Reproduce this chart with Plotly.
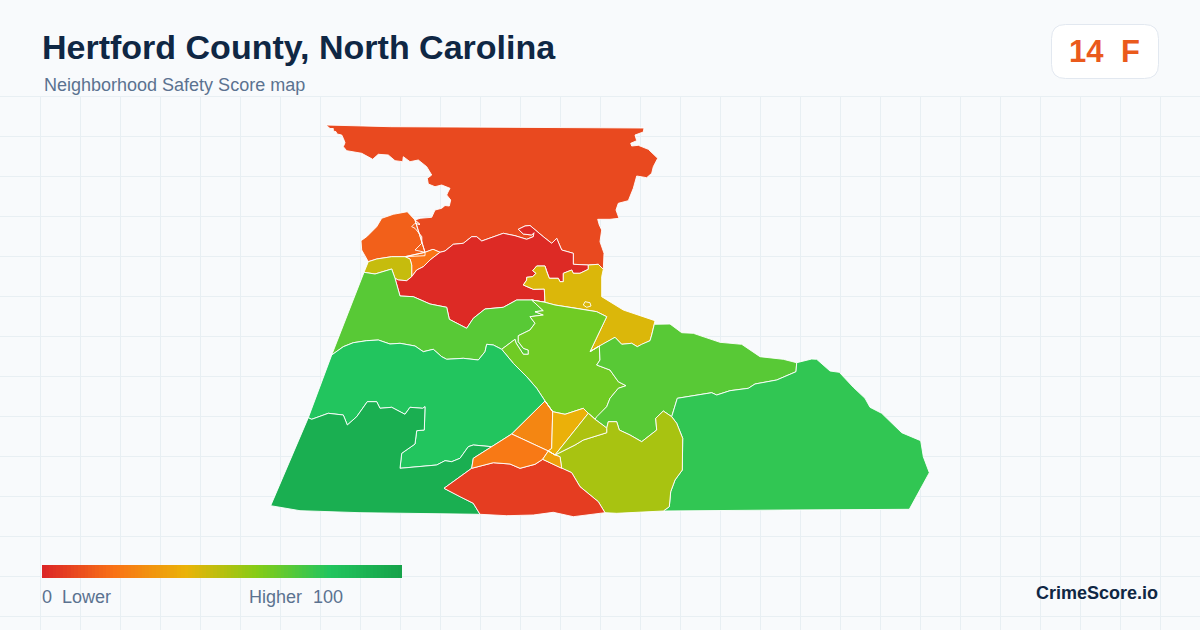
#!/usr/bin/env python
# coding: utf-8

import plotly.graph_objects as go
from plotly.colors import sample_colorscale

SCORE_STOPS = [0, 20, 40, 60, 80, 100]
SCORE_COLORS = ["#dc2626", "#f97316", "#eab308", "#84cc16", "#22c55e", "#16a34a"]
LEGEND_SCORES = list(range(0, 101))

SCORES = {
    "north": 9, "northwest": 15, "sliver": 20, "olive": 47, "center_red": 1,
    "yellow": 43, "west_upper": 69, "lime": 64, "west_big": 80, "southwest": 93,
    "east_mid": 69, "east_big": 77, "south_olive": 53, "south_red": 6,
    "orange_a": 26, "orange_b": 22, "yellow_a": 39, "tiny": 34, "yellow_green": 52,
}

# Shared borders, in projected map units
NORTH_WEST_COAST = [(326, 125), (330, 128.5), (333.3, 128.5), (333.3, 131), (336, 131.7), (337, 134), (341.7, 135),
                    (343.3, 138.3), (345, 142.7), (343.3, 146.7), (346.7, 150.7), (361.7, 153.3), (372.7, 159.3),
                    (378.3, 154.3), (388.3, 155), (395, 160.7), (402.7, 161.7), (403.3, 156.7), (410, 161.7),
                    (418.3, 160), (426.7, 166.7), (431.7, 175), (427.3, 178.3), (428.3, 184), (435, 186.7),
                    (441.7, 185), (450, 188.3), (448, 192), (446.7, 195), (450.7, 200), (449.3, 206), (445, 205.5),
                    (441.7, 208.3), (435, 210), (431.7, 217.3), (420, 218.3), (415, 220)]
NORTH_EAST_EDGE = [(326, 125), (390.7, 126.7), (644, 128), (643.3, 132), (635, 135), (636.7, 140.7),
                   (630.7, 143.3), (631.7, 146), (638.3, 145.3), (648.3, 149.3), (657.7, 158.3), (653.3, 166.7),
                   (651.7, 173.3), (646.7, 177.7), (636.7, 176), (633.3, 188.3), (628.3, 200.7), (618.3, 203.3),
                   (616, 210), (619, 218.3), (610, 219.3), (597.7, 219.3), (599.3, 225), (601.7, 230),
                   (600, 241.7), (604, 253.3), (603.3, 269.3)]
NORTH_YELLOW = [(603.3, 269.3), (598.3, 264.3), (588.3, 265)]
NORTH_RED = [(588.3, 265), (573.3, 264.3), (573.3, 253.3), (561.7, 250), (556.7, 238.3), (551.7, 243.3),
             (543.3, 236.7), (535, 230), (530, 225.5), (525, 226), (518.3, 229.3), (523.3, 234), (531.7, 235),
             (534, 232.7), (533.3, 236.7), (526.7, 239.3), (515, 235.7), (503.3, 233.3), (493.3, 236.7),
             (481.7, 241), (476.7, 236.7), (471.7, 236.7), (463.3, 243.3), (453.3, 244.3), (445, 251), (440, 252.3)]
NORTH_SLIVER = [(440, 252.3), (433, 249.3), (425, 252.3)]
NORTH_NW = [(425, 252.3), (415, 250), (421.7, 243.3), (421.7, 236.7), (415, 228.3), (411.7, 226.7), (415, 223.3),
            (420, 224.5), (415, 220)]
NW_OUTER = [(415, 220), (407.3, 211.7), (393.3, 214.3), (381.7, 218.3), (376.7, 226.7), (366.7, 236.7),
            (361, 240.7), (361.7, 250), (368.3, 261.7)]
NW_OLIVE = [(368.3, 261.7), (376.7, 259), (391.7, 256.7), (405, 256.7)]
NW_SLIVER = [(405, 256.7), (425, 255.7), (425, 252.3)]
SLIVER_OLIVE = [(405, 256.7), (410, 259), (411.7, 265), (411.7, 276.7)]
SLIVER_RED = [(440, 252.3), (430, 260), (423.3, 266.7), (416.7, 270), (411.7, 276.7)]
OLIVE_RED = [(411.7, 276.7), (406.7, 280.7), (398.3, 280), (395, 278.3)]
OLIVE_WEST = [(395, 278.3), (391.7, 269), (375, 274), (364, 272.3), (368.3, 261.7)]
RED_WEST = [(395, 278.3), (400, 296), (413.3, 296.7), (430, 304), (446.7, 307.3), (449.3, 319.3), (466.7, 328.3),
            (473.3, 318.3), (485, 309), (503.3, 307.3), (516.7, 300), (531.7, 300)]
RED_YELLOW = [(531.7, 300), (545, 302.3), (544.3, 289), (533.3, 289.3), (523.3, 285), (526.7, 280), (526.7, 277.3),
              (532.7, 276.7), (536, 273.3), (532.7, 270.7), (536.7, 266), (545, 266), (546.7, 271.7), (549.3, 278.3),
              (558.3, 278.3), (560, 281.7), (563.3, 281.7), (563.3, 273.3), (571.7, 270), (573.3, 273.3),
              (580, 273.3), (588.3, 269.3), (588.3, 265)]
YELLOW_LIME = [(531.7, 300), (545, 302.3), (555, 305), (576.7, 308.3), (596.7, 311.7), (606.7, 316.7), (590, 351.7)]
YELLOW_EAST = [(603.3, 269.3), (601.7, 276.7), (601.7, 296.7), (610, 302), (623.3, 310), (655, 320.7), (654.3, 324.3)]
YELLOW_MID = [(654.3, 324.3), (651.7, 335), (650, 340.7), (641.7, 344.3), (637.3, 346.7), (631.7, 343.3),
              (621.7, 344.3), (615, 337.3), (599.3, 346), (590, 351.7)]
YELLOW_POND = [(585, 301.7), (590, 302.7), (591, 306), (586.7, 307.3), (583.3, 305)]
WEST_LIME = [(531.7, 300), (543.3, 310.7), (535, 311.7), (543.3, 315), (530, 316.7), (535, 323.3), (530, 330),
             (518.3, 335.7), (518.3, 341.7), (523.3, 348.3), (528.3, 350), (528.3, 354.3), (523.3, 354.3),
             (516, 343), (515, 339.3), (501.7, 349.3)]
WEST_BIG_TOP = [(501.7, 349.3), (493.3, 345), (486.7, 344.3), (485, 351.7), (478.3, 360), (463.3, 358.3),
                (446.7, 359.3), (441.7, 356.7), (433.3, 349.3), (423.3, 351.7), (415, 346), (400, 343.3), (390, 344),
                (378.3, 340), (366.7, 340.7), (353.3, 342.7), (343.3, 346.7), (331.7, 355)]
WEST_COAST_UPPER = [(331.7, 355), (364, 272.3)]
WEST_COAST_MID = [(308.3, 417.7), (331.7, 355)]
BIG_LIME = [(501.7, 349.3), (513.3, 363.3), (526.7, 376.7), (536.7, 388.3), (545, 401)]
BIG_ORANGE_A = [(545, 401), (511.7, 434)]
BIG_ORANGE_B = [(511.7, 434), (491.7, 446.7)]
BIG_DARK = [(491.7, 446.7), (473.3, 445), (468.3, 446.7), (460, 458.3), (451.7, 461.7), (445, 460.7), (436.7, 465),
            (400, 468.3), (401.7, 453.3), (415, 444), (416.7, 430.7), (424.3, 430), (425, 406.7), (422.7, 408.3),
            (410, 407.3), (405, 414.3), (391.7, 407.3), (380, 408.3), (376.7, 401.7), (367.3, 401.7),
            (356.7, 416.7), (347.3, 425), (343.3, 415), (328.3, 413.3), (311.7, 419.3), (308.3, 417.7)]
DARK_ORANGE = [(491.7, 446.7), (473.3, 458.3), (471.7, 468.3)]
DARK_RED = [(471.7, 468.3), (444, 488.3), (460, 496.7), (473.3, 503.3), (480, 514.3)]
DARK_SOUTH = [(480, 514.3), (433.3, 514), (360, 512.7), (300, 510.7), (270.7, 505.7), (308.3, 417.7)]
ORANGE_RED = [(471.7, 468.3), (493.3, 462.7), (510, 464), (520, 468.3), (535, 464.3), (542.7, 459.3)]
ORANGE_MID = [(511.7, 434), (548.3, 451)]
ORANGE_B_TINY = [(548.3, 451), (542.7, 459.3)]
ORANGE_A_YELLOW = [(545, 401), (552.7, 411.7), (551.7, 448.3), (548.3, 451)]
YELLOW_A_LIME = [(552.7, 411.7), (565, 414.3), (583.3, 408.3), (588.3, 413.3)]
YELLOW_A_GREEN = [(588.3, 413.3), (555, 455), (548.3, 451)]
TINY_OLIVE = [(555, 455), (560, 456.7), (561.7, 468.3)]
TINY_RED = [(542.7, 459.3), (561.7, 468.3)]
RED_OLIVE = [(561.7, 468.3), (571.7, 472.7), (580, 486.7), (598.3, 501.7), (605, 512.7)]
RED_SOUTH = [(605, 512.7), (573.3, 516.7), (553.3, 512.3), (533.3, 515), (506.7, 515.7), (480, 514.3)]
GREEN_OLIVE = [(555, 455), (575, 445), (583.3, 440), (606.7, 432.7), (606.7, 428.3)]
YG_MID = [(606.7, 428.3), (605, 426.7), (595, 419.3), (588.3, 413.3)]
LIME_MID = [(599.3, 346), (600, 360), (596.7, 365), (610, 370), (618.3, 381.7), (626, 385.7), (618.3, 388.3),
            (610, 398.3), (606.7, 406.7), (596.7, 416.7), (595, 419.3)]
MID_OLIVE = [(606.7, 428.3), (608.3, 421.7), (616.7, 421.7), (619.3, 430), (630, 435), (641.7, 441.7), (656.7, 430),
             (655.7, 418.3), (663.3, 411), (671.7, 416.7)]
MID_NORTH = [(654.3, 324.3), (670, 324), (681.7, 332.7), (693.3, 333.3), (720, 342.3), (741.7, 344.3), (760, 356.7),
             (783.3, 359.3), (796.7, 362.7)]
MID_EAST = [(796.7, 362.7), (796, 371.7), (776.7, 380), (755, 384), (748.3, 388.3), (730, 390.7), (716.7, 395),
            (711.7, 392.7), (677.3, 398.3), (671.7, 416.7)]
OLIVE_EAST = [(671.7, 416.7), (676.7, 423.3), (682.7, 438.3), (682.3, 470), (675, 480), (670.7, 491.7),
              (669.3, 506.7), (663.3, 511)]
OLIVE_SOUTH = [(663.3, 511), (641.7, 512.3), (616.7, 513.3), (605, 512.7)]
EAST_COAST = [(796.7, 362.7), (811.7, 359), (816.7, 359.3), (830, 371), (839.3, 372.3), (853.3, 387.3), (865, 398.3),
              (870, 407.3), (881.7, 413.3), (901.7, 432.7), (920.7, 440.7), (923.3, 456.7), (929.3, 472.7),
              (909.3, 509.3), (785, 510), (663.3, 511)]


def ring(*parts):
    """Chain border segments into one closed outline."""
    pts = []
    for part in parts:
        pts.extend(part)
    return pts + pts[:1]


def rev(seg):
    return list(reversed(seg))


REGIONS = {
    "north": ring(NORTH_EAST_EDGE, NORTH_YELLOW, NORTH_RED, NORTH_SLIVER, NORTH_NW, rev(NORTH_WEST_COAST)),
    "northwest": ring(rev(NORTH_NW), NW_OUTER, NW_OLIVE, NW_SLIVER),
    "sliver": ring(rev(NW_SLIVER), rev(NORTH_SLIVER), SLIVER_RED, rev(SLIVER_OLIVE)),
    "olive": ring(NW_OLIVE, SLIVER_OLIVE, OLIVE_RED, OLIVE_WEST),
    "center_red": ring(NORTH_RED, SLIVER_RED, OLIVE_RED, RED_WEST, RED_YELLOW),
    "yellow": ring(rev(NORTH_YELLOW), YELLOW_EAST, YELLOW_MID, rev(YELLOW_LIME), RED_YELLOW[1:]),
    "yellow_pond": ring(YELLOW_POND),
    "west_upper": ring(OLIVE_WEST[:-1], rev(WEST_COAST_UPPER), rev(WEST_BIG_TOP), rev(WEST_LIME), rev(RED_WEST)),
    "lime": ring(YELLOW_LIME, rev(YELLOW_MID)[:2], LIME_MID, YG_MID[-1:], YELLOW_A_LIME[::-1], rev(BIG_LIME),
                 rev(WEST_LIME)),
    "west_big": ring(WEST_BIG_TOP, rev(WEST_COAST_MID), rev(BIG_DARK), rev(BIG_ORANGE_B), rev(BIG_ORANGE_A),
                     rev(BIG_LIME)),
    "southwest": ring(BIG_DARK, rev(DARK_SOUTH), rev(DARK_RED), rev(DARK_ORANGE)),
    "east_mid": ring(rev(YELLOW_MID), MID_NORTH, MID_EAST, rev(MID_OLIVE), YG_MID, rev(LIME_MID)),
    "east_big": ring(EAST_COAST, rev(OLIVE_EAST), rev(MID_EAST)),
    "south_olive": ring(GREEN_OLIVE, MID_OLIVE, OLIVE_EAST, OLIVE_SOUTH, rev(RED_OLIVE), rev(TINY_OLIVE)),
    "south_red": ring(DARK_RED, rev(RED_SOUTH), rev(RED_OLIVE), rev(TINY_RED), rev(ORANGE_RED)),
    "orange_a": ring(ORANGE_A_YELLOW, rev(ORANGE_MID), rev(BIG_ORANGE_A)),
    "orange_b": ring(BIG_ORANGE_B, DARK_ORANGE, ORANGE_RED, rev(ORANGE_B_TINY), rev(ORANGE_MID)),
    "yellow_a": ring(YELLOW_A_LIME, YELLOW_A_GREEN, rev(ORANGE_A_YELLOW)[1:]),
    "tiny": ring(YELLOW_A_GREEN[1:], TINY_OLIVE, rev(TINY_RED), rev(ORANGE_B_TINY)[1:]),
    "yellow_green": ring(YG_MID[-1:], rev(YG_MID)[1:], rev(GREEN_OLIVE)),
}

TITLE = "Hertford County, North Carolina"
SUBTITLE = "Neighborhood Safety Score map"
SCORE_TEXT = "14"
GRADE_TEXT = "F"
BRAND = "CrimeScore.io"

colorscale = [[s / 100, c] for s, c in zip(SCORE_STOPS, SCORE_COLORS)]


def score_color(score):
    return sample_colorscale(colorscale, score / 100)[0]


fig = go.Figure()

for name, outline in REGIONS.items():
    score = SCORES["yellow" if name == "yellow_pond" else name]
    fig.add_trace(go.Scatter(
        x=[p[0] for p in outline],
        y=[p[1] for p in outline],
        mode="lines",
        fill="toself",
        fillcolor=score_color(score),
        line=dict(color="white", width=0.9),
        hoverinfo="skip",
    ))

# Legend bar
fig.add_trace(go.Heatmap(
    z=[LEGEND_SCORES],
    x0=43.78, dx=3.564, y0=571.5, dy=13,
    colorscale=colorscale, zmin=0, zmax=100,
    showscale=False, hoverinfo="skip",
))


def label(x, y, text, size, color, bold=False, anchor="left"):
    fig.add_annotation(
        x=x, y=y, xref="x", yref="y", text=f"<b>{text}</b>" if bold else text,
        showarrow=False, xanchor=anchor, yanchor="middle",
        font=dict(family="Liberation Sans", size=size, color=color),
    )


label(40, 47, TITLE, 34, "#0f2744", bold=True)
label(41.5, 85, SUBTITLE, 18, "#5b7290")
label(1066.5, 51, SCORE_TEXT, 31, "#ea5a1c", bold=True)
label(1118.5, 51, GRADE_TEXT, 31, "#ea5a1c", bold=True)
label(40, 597, "0", 18, "#5b7290")
label(60, 597, "Lower", 18, "#5b7290")
label(247, 597, "Higher", 18, "#5b7290")
label(311, 597, "100", 18, "#5b7290")
label(1160, 593, BRAND, 18, "#0f2744", bold=True, anchor="right")

fig.update_layout(
    width=1200, height=630,
    margin=dict(l=0, r=0, t=0, b=0),
    paper_bgcolor="#f8fafc",
    plot_bgcolor="#f8fafc",
    showlegend=False,
    xaxis=dict(range=[0, 1200], showgrid=True, gridcolor="#e8eff3", gridwidth=1, tick0=0.5, dtick=40,
               showticklabels=False, zeroline=False, ticks="", fixedrange=True),
    yaxis=dict(range=[630, 0], showgrid=True, gridcolor="#e8eff3", gridwidth=1, tick0=16.5, dtick=40,
               showticklabels=False, zeroline=False, ticks="", fixedrange=True),
    shapes=[
        # header strip hides the grid above the map
        dict(type="rect", xref="x", yref="y", x0=0, x1=1200, y0=0, y1=96, layer="between",
             fillcolor="#f8fafc", line=dict(width=0)),
        # score badge
        dict(type="path", xref="x", yref="y", layer="between",
             path="M 1065.5 24.5 H 1144.5 Q 1158.5 24.5 1158.5 38.5 V 64.5 Q 1158.5 78.5 1144.5 78.5 "
                  "H 1065.5 Q 1051.5 78.5 1051.5 64.5 V 38.5 Q 1051.5 24.5 1065.5 24.5 Z",
             fillcolor="white", line=dict(color="#e2e8f0", width=1)),
    ],
)

fig.write_html(
    "out.html",
    config={"displayModeBar": False},
    post_script="document.body.style.margin='0';",
)
